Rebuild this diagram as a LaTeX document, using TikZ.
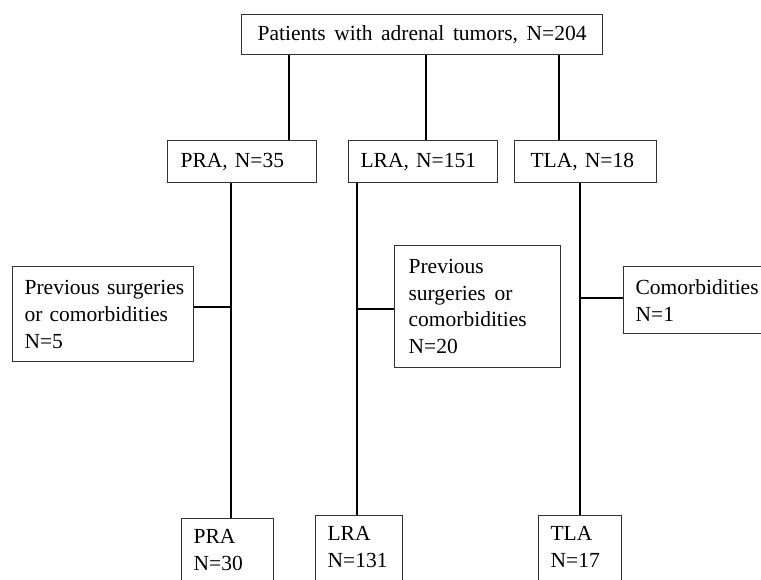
\documentclass[tikz,border=0pt]{standalone}
\usepackage{fontspec}
\setmainfont{Liberation Serif}
\begin{document}
\begin{tikzpicture}[x=1pt,y=-1pt,
  box/.style={draw=black!80, line width=1.2pt, anchor=north west, inner ysep=0pt,
    align=left, font=\fontsize{21.5}{27}\selectfont},
  link/.style={draw=black, line width=2.6pt}]
\clip (0,0) rectangle (761,580);
\fill[white] (0,0) rectangle (761,580);
% top
\node[box, minimum width=361pt, minimum height=40pt, inner xsep=0pt, align=center, text width=361pt] (top) at (241,14)
  {\makebox[329pt][s]{Patients\hfil\ with\hfil\ adrenal\hfil\ tumors,\hfil\ N=204}};
% second row
\node[box, minimum width=149pt, minimum height=42pt, inner xsep=13pt, text width=123pt] (pra1) at (167,140) {PRA, N=35};
\node[box, minimum width=149pt, minimum height=42pt, inner xsep=12pt, text width=125pt] (lra1) at (348,140) {LRA, N=151};
\node[box, minimum width=142pt, minimum height=42pt, inner xsep=16pt, text width=110pt] (tla1) at (514,140) {TLA, N=18};
% side boxes
\node[box, minimum width=181pt, minimum height=95pt, inner xsep=12pt, text width=157pt] (side1) at (12,266)
  {\makebox[159pt][s]{Previous\hfil\ surgeries}\\or comorbidities\\N=5};
\node[box, minimum width=166pt, minimum height=122pt, inner xsep=14pt, text width=138pt, font=\fontsize{21.5}{26.5}\selectfont] (side2) at (394,245)
  {Previous\\\makebox[104pt][s]{surgeries\hfil\ or}\\comorbidities\\N=20};
\node[box, minimum width=200pt, minimum height=67pt, inner xsep=12pt, text width=176pt] (side3) at (623,266)
  {Comorbidities\\N=1};
% bottom boxes
\node[box, minimum width=92pt, inner xsep=12pt, inner ysep=11pt, text width=68pt, text depth=30pt] (pra2) at (181,518) {PRA\\N=30};
\node[box, minimum width=87pt, inner xsep=12pt, inner ysep=11pt, text width=63pt, text depth=30pt] (lra2) at (315,515) {LRA\\N=131};
\node[box, minimum width=83pt, inner xsep=12pt, inner ysep=11pt, text width=59pt, text depth=30pt] (tla2) at (538,515) {TLA\\N=17};
% connectors
\draw[link] (top.south -| 289,0) -- (pra1.north -| 289,0);
\draw[link] (top.south -| 426,0) -- (lra1.north -| 426,0);
\draw[link] (top.south -| 559,0) -- (tla1.north -| 559,0);
\draw[link] (pra1.south -| 231,0) -- (pra2.north -| 231,0);
\draw[link] (lra1.south -| 357,0) -- (lra2.north -| 357,0);
\draw[link] (tla1.south -| 580,0) -- (tla2.north -| 580,0);
\draw[link] (side1.east |- 0,307) -- (231,307);
\draw[link] (357,309) -- (side2.west |- 0,309);
\draw[link] (580,298) -- (side3.west |- 0,298);
\end{tikzpicture}
\end{document}
